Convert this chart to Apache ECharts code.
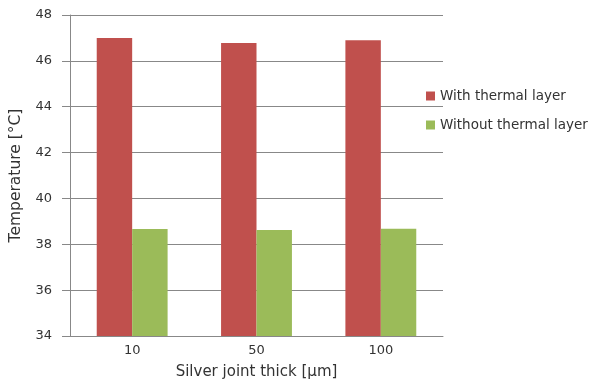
<!DOCTYPE html>
<html><head><meta charset="utf-8">
<script src="https://cdn.jsdelivr.net/npm/echarts@6/dist/echarts.min.js"></script>
<style>html,body{margin:0;padding:0;background:#fff}#c{width:594px;height:385px}</style>
</head><body><div id="c"></div>
<script>
const categories = ['10', '50', '100'];
const withLayer = [47.0, 46.78, 46.9];
const withoutLayer = [38.67, 38.62, 38.68];
const seriesNames = ['With thermal layer', 'Without thermal layer'];
const font = 'DejaVu Sans';
const chart = echarts.init(document.getElementById('c'));
chart.setOption({
  animation: false,
  textStyle: {fontFamily: font},
  grid: {left: 70, right: 151, top: 15, bottom: 48, containLabel: false},
  legend: {
    orient: 'vertical', left: 421, top: 84, itemWidth: 9, itemHeight: 9, itemGap: 15,
    icon: 'rect', textStyle: {fontFamily: font, fontSize: 13.5, color: '#333'},
    itemStyle: {borderWidth: 0},
    data: seriesNames
  },
  xAxis: {
    type: 'category', data: categories,
    name: 'Silver joint thick [µm]', nameLocation: 'middle', nameGap: 29,
    nameTextStyle: {fontFamily: font, fontSize: 15, color: '#333'},
    axisLine: {lineStyle: {color: '#888', width: 1}},
    axisTick: {show: false},
    axisLabel: {fontFamily: font, fontSize: 13, color: '#333', margin: 8}
  },
  yAxis: {
    type: 'value', min: 34, max: 48, interval: 2,
    name: 'Temperature [°C]', nameLocation: 'middle', nameGap: 46, nameRotate: 90,
    nameTextStyle: {fontFamily: font, fontSize: 15.5, color: '#333'},
    axisLine: {show: true, lineStyle: {color: '#888', width: 1}},
    axisTick: {show: true, length: 8, inside: false, lineStyle: {color: '#888'}},
    axisLabel: {fontFamily: font, fontSize: 13, color: '#333', margin: 18},
    splitLine: {lineStyle: {color: '#888', width: 1}}
  },
  series: [
    {name: seriesNames[0], type: 'bar', data: withLayer, barGap: '0%', barCategoryGap: '43%',
     itemStyle: {color: '#C0504D'}},
    {name: seriesNames[1], type: 'bar', data: withoutLayer,
     itemStyle: {color: '#9BBB59'}}
  ]
});
</script></body></html>
